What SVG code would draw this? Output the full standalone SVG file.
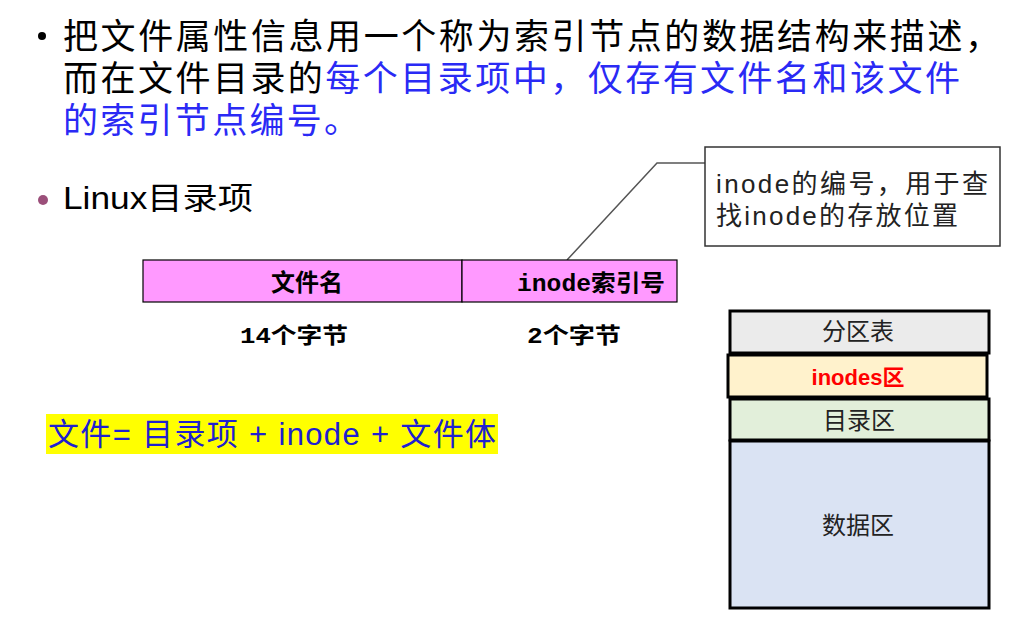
<svg xmlns="http://www.w3.org/2000/svg" width="1014" height="617" viewBox="0 0 1014 617">
<style>
.cjk{font-family:"Liberation Sans","Noto Sans CJK SC",sans-serif;}
.ser{font-family:"Liberation Serif","Noto Sans CJK SC",serif;font-weight:bold;}
.mono{font-family:"Liberation Mono","Noto Sans CJK SC",monospace;}
.blue{fill:#2a2af5;}
.box{stroke:#000;stroke-width:3;}
.lbl{font-family:"Liberation Sans","Noto Sans CJK SC",sans-serif;font-size:24px;fill:#222;text-anchor:middle;}
</style>
<rect width="1014" height="617" fill="#fff"/>
<g id="bullet1">
<circle cx="42" cy="36" r="4" fill="#000"/>
<text class="cjk" x="63" y="49" font-size="35" textLength="937" lengthAdjust="spacing" fill="#000">把文件属性信息用一个称为索引节点的数据结构来描述，</text>
<text class="cjk" x="63" y="91" font-size="35" textLength="897" lengthAdjust="spacing" fill="#000">而在文件目录的<tspan class="blue">每个目录项中，仅存有文件名和该文件</tspan></text>
<text class="cjk blue" x="63" y="133" font-size="35" textLength="296" lengthAdjust="spacing">的索引节点编号。</text>
</g>
<g id="bullet2">
<circle cx="43" cy="200" r="5" fill="#9b4f7a"/>
<text class="cjk" x="63" y="209" font-size="31" textLength="190" lengthAdjust="spacingAndGlyphs" fill="#000">Linux目录项</text>
</g>
<g id="connectors">
<polyline points="567,260 657,163 705,163" fill="none" stroke="#555" stroke-width="1.5"/>
</g>
<g id="callout">
<rect x="705" y="147" width="295" height="99" fill="#fff" stroke="#333" stroke-width="1.5"/>
<text class="cjk" x="716" y="193" font-size="26" textLength="272" lengthAdjust="spacing" fill="#222">inode的编号，用于查</text>
<text class="cjk" x="716" y="225" font-size="26" textLength="242" lengthAdjust="spacing" fill="#222">找inode的存放位置</text>
</g>
<g id="dirent">
<rect x="143" y="260" width="319" height="42" fill="#ff99ff" stroke="#000" stroke-width="1.2"/>
<rect x="462" y="260" width="215" height="42" fill="#ff99ff" stroke="#000" stroke-width="1.2"/>
<text class="ser" x="307" y="291" font-size="24" text-anchor="middle">文件名</text>
<text class="ser" x="517" y="291" font-size="23" textLength="148" lengthAdjust="spacingAndGlyphs"><tspan class="mono">inode</tspan>索引号</text>
<text class="ser" x="240" y="343" font-size="22" textLength="108" lengthAdjust="spacingAndGlyphs"><tspan class="mono">14</tspan>个字节</text>
<text class="ser" x="527" y="343" font-size="22" textLength="94" lengthAdjust="spacingAndGlyphs"><tspan class="mono">2</tspan>个字节</text>
</g>
<g id="formula">
<rect x="46" y="414" width="452" height="40" fill="#ffff00"/>
<text class="cjk" x="48" y="445" font-size="31" textLength="448" lengthAdjust="spacing" fill="#2020d0">文件= 目录项 + inode + 文件体</text>
</g>
<g id="partition-table">
<rect class="box" x="730" y="311" width="259" height="42" fill="#ebebeb"/>
<text class="lbl" x="858" y="340">分区表</text>
</g>
<g id="inodes">
<rect class="box" x="728" y="355" width="259" height="42" fill="#fff2cc"/>
<text x="858" y="385" font-size="22" font-weight="bold" fill="#ff0000" text-anchor="middle" font-family="Liberation Sans,Noto Sans CJK SC,sans-serif">inodes区</text>
</g>
<g id="dir-area">
<rect class="box" x="730" y="399" width="259" height="41" fill="#e2efda"/>
<text class="lbl" x="859" y="429">目录区</text>
</g>
<g id="data-area">
<rect class="box" x="730" y="441" width="259" height="167" fill="#dae3f3"/>
<text class="lbl" x="858" y="534">数据区</text>
</g>
</svg>
